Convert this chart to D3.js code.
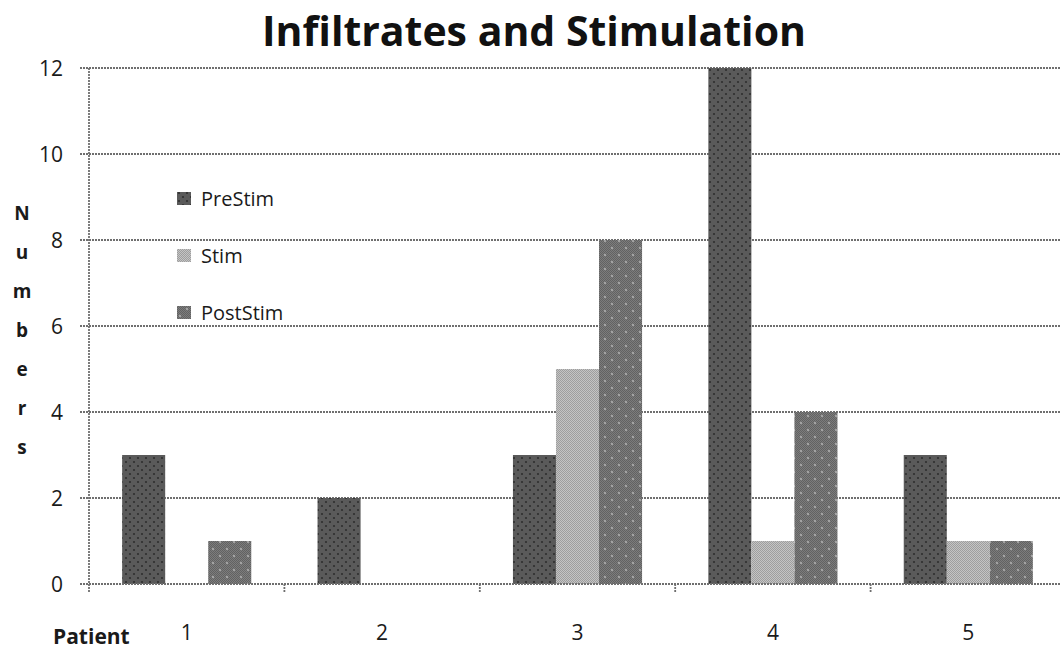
<!DOCTYPE html>
<html><head><meta charset="utf-8">
<script src="https://cdn.jsdelivr.net/npm/d3@7"></script>
<style>body{margin:0;background:#fff}svg{display:block}</style>
</head><body>
<script>
const categories = ["1","2","3","4","5"];
const seriesNames = ["PreStim","Stim","PostStim"];
const preStim = [3,2,3,12,3];
const stim = [0,0,5,1,1];
const postStim = [1,0,8,4,1];
const yTicks = [0,2,4,6,8,10,12];
const yTitle = "Numbers";

const W=1060,H=650;
const m={left:89,right:1066,top:68,bottom:584};
const svg=d3.select("body").append("svg").attr("width",W).attr("height",H);
const defs=svg.append("defs");

// patterns
const p1=defs.append("pattern").attr("id","pPre").attr("patternUnits","userSpaceOnUse").attr("width",8).attr("height",8);
p1.append("rect").attr("width",8).attr("height",8).attr("fill","#5a5a5a");
p1.append("circle").attr("cx",2).attr("cy",2).attr("r",1.1).attr("fill","#2e2e2e");
p1.append("circle").attr("cx",6).attr("cy",6).attr("r",1.1).attr("fill","#2e2e2e");

const p2=defs.append("pattern").attr("id","pStim").attr("patternUnits","userSpaceOnUse").attr("width",2).attr("height",2);
p2.append("rect").attr("width",2).attr("height",2).attr("fill","#c4c4c4");
p2.append("rect").attr("width",1).attr("height",1).attr("fill","#9e9e9e");
p2.append("rect").attr("x",1).attr("y",1).attr("width",1).attr("height",1).attr("fill","#9e9e9e");

const p3=defs.append("pattern").attr("id","pPost").attr("patternUnits","userSpaceOnUse").attr("width",14).attr("height",14);
p3.append("rect").attr("width",14).attr("height",14).attr("fill","#7c7c7c");
for(let i=0;i<14;i++)for(let j=0;j<14;j++){ if((i+j)%2===0) p3.append("rect").attr("x",i).attr("y",j).attr("width",1).attr("height",1).attr("fill","#626262"); }
p3.append("circle").attr("cx",3).attr("cy",3).attr("r",1.2).attr("fill","#a4a4a4");
p3.append("circle").attr("cx",10).attr("cy",10).attr("r",1.2).attr("fill","#a4a4a4");

const fills=["url(#pPre)","url(#pStim)","url(#pPost)"];

const x=d3.scaleBand().domain(categories).range([m.left,m.right]).paddingInner(0).paddingOuter(0);
const xs=d3.scaleBand().domain(seriesNames).range([0,x.bandwidth()]).paddingInner(0).paddingOuter(0.77);
const y=d3.scaleLinear().domain([0,12]).range([m.bottom,m.top]);

const lineCol="#6f6f6f";
// gridlines
svg.append("g").selectAll("line").data(yTicks.filter(d=>d>0)).join("line")
 .attr("x1",m.left-9).attr("x2",W).attr("y1",d=>y(d)).attr("y2",d=>y(d))
 .attr("stroke",lineCol).attr("stroke-width",1.8).attr("stroke-dasharray","2,1");

// bars
const data=[preStim,stim,postStim];
const g=svg.append("g");
categories.forEach((c,ci)=>{
  seriesNames.forEach((s,si)=>{
    const v=data[si][ci];
    if(v>0) g.append("rect").attr("x",x(c)+xs(s)).attr("y",y(v)).attr("width",xs.bandwidth()).attr("height",y(0)-y(v)).attr("fill",fills[si]);
  });
});

// axes
svg.append("line").attr("x1",m.left).attr("x2",m.left).attr("y1",y(12)).attr("y2",m.bottom+8)
 .attr("stroke",lineCol).attr("stroke-width",1.8).attr("stroke-dasharray","2,1");
svg.append("line").attr("x1",m.left-9).attr("x2",W).attr("y1",y(0)).attr("y2",y(0))
 .attr("stroke",lineCol).attr("stroke-width",1.8).attr("stroke-dasharray","2,1");
// x ticks
svg.append("g").selectAll("line").data(categories.slice(1)).join("line")
 .attr("x1",d=>x(d)).attr("x2",d=>x(d)).attr("y1",m.bottom).attr("y2",m.bottom+8)
 .attr("stroke",lineCol).attr("stroke-width",1.8).attr("stroke-dasharray","2,1");

const font="'Open Sans', 'Liberation Sans', sans-serif";
// y labels
svg.append("g").selectAll("text").data(yTicks).join("text")
 .attr("x",63).attr("y",d=>y(d)).attr("dy","0.36em").attr("text-anchor","end")
 .attr("font-family",font).attr("font-size",21).attr("fill","#1a1a1a").text(d=>d);
// x labels
svg.append("g").selectAll("text").data(categories).join("text")
 .attr("x",d=>x(d)+x.bandwidth()/2).attr("y",632).attr("dy","0.36em").attr("text-anchor","middle")
 .attr("font-family",font).attr("font-size",21).attr("fill","#1a1a1a").text(d=>d);
svg.append("text").attr("x",53).attr("y",636).attr("dy","0.36em").attr("font-family",font).attr("font-weight","bold")
 .attr("font-size",21).attr("fill","#1a1a1a").text("Patient");

// y title stacked
svg.append("g").selectAll("text").data(yTitle.split("")).join("text")
 .attr("x",22).attr("y",(d,i)=>220+i*39).attr("text-anchor","middle")
 .attr("font-family",font).attr("font-weight","bold").attr("font-size",19).attr("fill","#1a1a1a").text(d=>d);

// title
svg.append("text").attr("x",534).attr("y",31).attr("dy","0.36em").attr("text-anchor","middle")
 .attr("font-family",font).attr("font-weight","bold").attr("font-size",41).attr("fill","#111").text("Infiltrates and Stimulation");

// legend
const lg=svg.append("g").selectAll("g").data(seriesNames).join("g").attr("transform",(d,i)=>`translate(177,${199+i*57})`);
lg.append("rect").attr("x",0).attr("y",-7).attr("width",14).attr("height",13).attr("fill",(d,i)=>fills[i]);
lg.append("text").attr("x",24).attr("y",0).attr("dy","0.36em").attr("font-family",font).attr("font-size",20).attr("fill","#1a1a1a").text(d=>d);
</script>
</body></html>
